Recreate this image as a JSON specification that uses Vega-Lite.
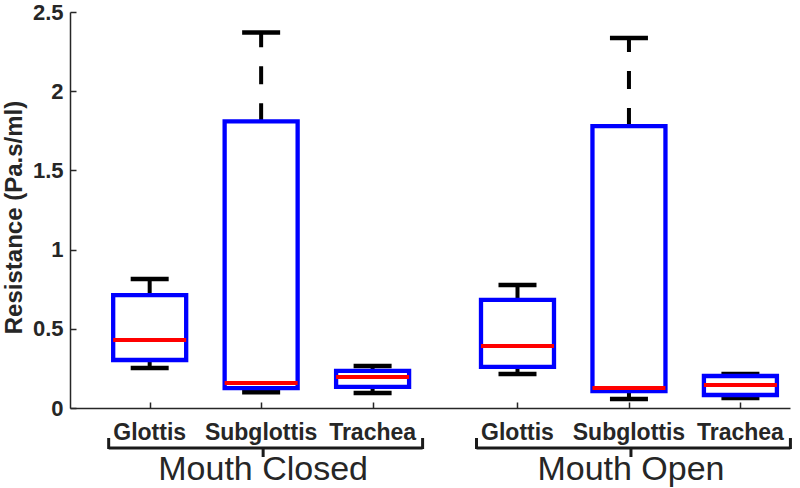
{
  "$schema": "https://vega.github.io/schema/vega-lite/v6.json",
  "width": 720,
  "height": 396,
  "autosize": {"type": "none"},
  "padding": {"left": 70, "top": 12, "right": 10, "bottom": 80},
  "background": "white",
  "config": {"view": {"stroke": null}, "font": "Liberation Sans"},
  "resolve": {"axis": {"x": "independent", "y": "independent"}},
  "data": {
    "values": [
      {"group": "Mouth Closed", "site": "Glottis", "pos": 1, "lower": 0.253, "q1": 0.303, "median": 0.429, "q3": 0.713, "upper": 0.814},
      {"group": "Mouth Closed", "site": "Subglottis", "pos": 2, "lower": 0.1, "q1": 0.126, "median": 0.158, "q3": 1.81, "upper": 2.37},
      {"group": "Mouth Closed", "site": "Trachea", "pos": 3, "lower": 0.095, "q1": 0.133, "median": 0.196, "q3": 0.234, "upper": 0.265},
      {"group": "Mouth Open", "site": "Glottis", "pos": 4.3, "lower": 0.215, "q1": 0.259, "median": 0.391, "q3": 0.682, "upper": 0.776},
      {"group": "Mouth Open", "site": "Subglottis", "pos": 5.3, "lower": 0.057, "q1": 0.107, "median": 0.126, "q3": 1.78, "upper": 2.336},
      {"group": "Mouth Open", "site": "Trachea", "pos": 6.3, "lower": 0.063, "q1": 0.082, "median": 0.145, "q3": 0.202, "upper": 0.215}
    ]
  },
  "layer": [
    {
      "mark": {"type": "rule", "color": "black", "strokeWidth": 4, "strokeDash": [18, 19]},
      "encoding": {
        "x": {"field": "pos", "type": "quantitative", "scale": {"domain": [0.33, 6.7], "nice": false, "zero": false},
          "axis": {"orient": "bottom", "values": [1, 2, 3, 4.3, 5.3, 6.3], "labels": false, "title": null, "grid": false, "ticks": false, "domainColor": "#262626", "domainWidth": 1.5}},
        "y": {"field": "q3", "type": "quantitative", "scale": {"domain": [0, 2.5], "nice": false},
          "axis": {"orient": "left", "values": [0, 0.5, 1, 1.5, 2, 2.5], "format": "~g", "grid": false, "ticks": false, "domainColor": "#262626", "domainWidth": 1.5,
            "labelFont": "Liberation Sans", "labelFontWeight": "bold", "labelFontSize": 22, "labelColor": "#262626", "labelPadding": 7,
            "title": "Resistance (Pa.s/ml)", "titleFont": "Liberation Sans", "titleFontWeight": "bold", "titleFontSize": 24, "titleColor": "#262626",
            "titleX": -56, "titleY": 205, "titleBaseline": "middle", "titleAngle": -90}},
        "y2": {"field": "upper"}
      }
    },
    {
      "mark": {"type": "rule", "color": "black", "strokeWidth": 4, "strokeDash": [18, 19]},
      "encoding": {
        "x": {"field": "pos", "type": "quantitative",
          "axis": {"orient": "bottom", "values": [1, 2, 3, 4.3, 5.3, 6.3], "labels": false, "title": null, "grid": false, "domain": false, "ticks": true, "tickSize": 6, "tickWidth": 1.5, "tickColor": "#262626", "offset": -6}},
        "y": {"field": "q1", "type": "quantitative",
          "axis": {"orient": "left", "values": [0, 0.5, 1, 1.5, 2, 2.5], "labels": false, "title": null, "grid": false, "domain": false, "ticks": true, "tickSize": 6, "tickWidth": 1.5, "tickColor": "#262626", "offset": -6}},
        "y2": {"field": "lower"}
      }
    },
    {
      "mark": {"type": "tick", "orient": "horizontal", "color": "black", "size": 38, "thickness": 4.5, "opacity": 1},
      "encoding": {
        "x": {"field": "pos", "type": "quantitative", "axis": null},
        "y": {"field": "upper", "type": "quantitative", "axis": null}
      }
    },
    {
      "mark": {"type": "tick", "orient": "horizontal", "color": "black", "size": 38, "thickness": 4.5, "opacity": 1},
      "encoding": {
        "x": {"field": "pos", "type": "quantitative", "axis": null},
        "y": {"field": "lower", "type": "quantitative", "axis": null}
      }
    },
    {
      "mark": {"type": "bar", "fill": "white", "stroke": "#0000ff", "strokeWidth": 4.3, "size": 73},
      "encoding": {
        "x": {"field": "pos", "type": "quantitative", "axis": null},
        "y": {"field": "q1", "type": "quantitative", "axis": null},
        "y2": {"field": "q3"}
      }
    },
    {
      "mark": {"type": "tick", "orient": "horizontal", "color": "#ff0000", "size": 73, "thickness": 4, "opacity": 1},
      "encoding": {
        "x": {"field": "pos", "type": "quantitative", "axis": null},
        "y": {"field": "median", "type": "quantitative", "axis": null}
      }
    },
    {
      "mark": {"type": "text", "font": "Liberation Sans", "fontWeight": "bold", "fontSize": 23, "color": "#262626", "baseline": "alphabetic", "align": "center", "yOffset": 32},
      "encoding": {
        "x": {"field": "pos", "type": "quantitative", "axis": null},
        "y": {"datum": 0, "type": "quantitative", "axis": null},
        "text": {"field": "site"}
      }
    },
    {
      "transform": [{"filter": "datum.site === 'Subglottis'"}],
      "mark": {"type": "text", "font": "Liberation Sans", "fontSize": 34, "color": "#262626", "baseline": "alphabetic", "align": "center", "yOffset": 72, "dx": 2},
      "encoding": {
        "x": {"field": "pos", "type": "quantitative", "axis": null},
        "y": {"datum": 0, "type": "quantitative", "axis": null},
        "text": {"field": "group"}
      }
    },
    {
      "transform": [{"aggregate": [{"op": "min", "field": "pos", "as": "x0"}, {"op": "max", "field": "pos", "as": "x1"}], "groupby": ["group"]}],
      "mark": {"type": "rule", "color": "#1a1a1a", "strokeWidth": 3, "xOffset": -41, "x2Offset": 50, "yOffset": 40},
      "encoding": {
        "x": {"field": "x0", "type": "quantitative", "axis": null},
        "x2": {"field": "x1"},
        "y": {"datum": 0, "type": "quantitative", "axis": null}
      }
    },
    {
      "transform": [{"filter": "datum.site === 'Glottis'"}],
      "mark": {"type": "rule", "color": "#1a1a1a", "strokeWidth": 3, "xOffset": -41, "yOffset": 30, "y2Offset": 41},
      "encoding": {
        "x": {"field": "pos", "type": "quantitative", "axis": null},
        "y": {"datum": 0, "type": "quantitative", "axis": null},
        "y2": {"datum": 0}
      }
    },
    {
      "transform": [{"filter": "datum.site === 'Trachea'"}],
      "mark": {"type": "rule", "color": "#1a1a1a", "strokeWidth": 3, "xOffset": 50, "yOffset": 30, "y2Offset": 41},
      "encoding": {
        "x": {"field": "pos", "type": "quantitative", "axis": null},
        "y": {"datum": 0, "type": "quantitative", "axis": null},
        "y2": {"datum": 0}
      }
    },
    {
      "transform": [{"filter": "datum.site === 'Subglottis'"}],
      "mark": {"type": "rule", "color": "#1a1a1a", "strokeWidth": 3, "xOffset": 2, "yOffset": 40, "y2Offset": 49},
      "encoding": {
        "x": {"field": "pos", "type": "quantitative", "axis": null},
        "y": {"datum": 0, "type": "quantitative", "axis": null},
        "y2": {"datum": 0}
      }
    }
  ]
}
